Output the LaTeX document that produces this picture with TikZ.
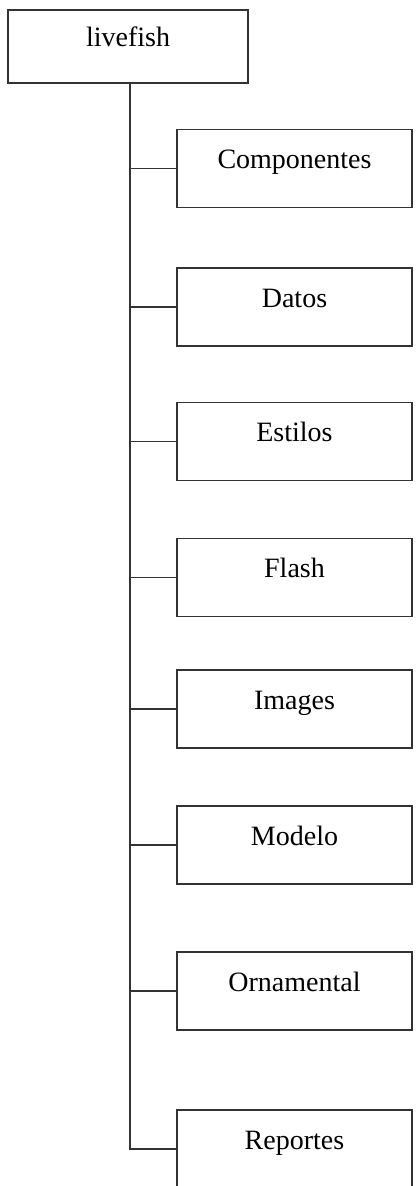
\documentclass[tikz,border=0pt]{standalone}
\usepackage{fontspec}
\setmainfont{Liberation Serif}
\begin{document}
\begin{tikzpicture}[x=1pt,y=-1pt,
    folder/.style={draw=black!80,line width=1.3pt,minimum width=235pt,
      minimum height=78pt,inner sep=0pt,text height=10pt,text depth=10pt,
      font=\fontsize{28}{30}\selectfont}]
      \useasboundingbox (0,0) rectangle (416,1186);
      \draw
        (128,46.5) node[folder,minimum width=240pt,minimum height=73pt] (root){livefish}
        (294.5,168.5) node[folder] (c1){Componentes}
        (294.5,307) node[folder] (c2){Datos}
        (294.5,441.5) node[folder] (c3){Estilos}
        (294.5,577.5) node[folder] (c4){Flash}
        (294.5,709) node[folder] (c5){Images}
        (294.5,845) node[folder] (c6){Modelo}
        (294.5,991) node[folder] (c7){Ornamental}
        (294.5,1149) node[folder] (c8){Reportes};
      \coordinate (trunk) at ([xshift=2pt]root.south);
      \begin{scope}[draw=black!80,line width=1.3pt]
        \draw (trunk) |- (c8.west);
        \draw (trunk |- c1.west) -- (c1.west);
        \draw (trunk |- c2.west) -- (c2.west);
        \draw (trunk |- c3.west) -- (c3.west);
        \draw (trunk |- c4.west) -- (c4.west);
        \draw (trunk |- c5.west) -- (c5.west);
        \draw (trunk |- c6.west) -- (c6.west);
        \draw (trunk |- c7.west) -- (c7.west);
      \end{scope}
    \end{tikzpicture}
\end{document}
